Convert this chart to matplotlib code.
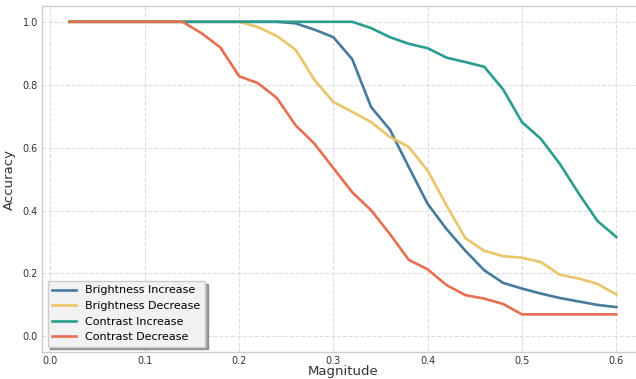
import matplotlib
matplotlib.use("Agg")
import matplotlib.pyplot as plt

plt.rcParams["font.family"] = "DejaVu Sans"

magnitude = [0.02, 0.04, 0.06, 0.08, 0.10, 0.12, 0.14, 0.16, 0.18, 0.20,
             0.22, 0.24, 0.26, 0.28, 0.30, 0.32, 0.34, 0.36, 0.38, 0.40,
             0.42, 0.44, 0.46, 0.48, 0.50, 0.52, 0.54, 0.56, 0.58, 0.60]

brightness_inc = [1.0, 1.0, 1.0, 1.0, 1.0, 1.0, 1.0, 1.0, 1.0, 1.0,
                  1.0, 1.0, 0.995, 0.975, 0.951, 0.881, 0.729, 0.657, 0.538, 0.421,
                  0.341, 0.272, 0.210, 0.170, 0.152, 0.136, 0.122, 0.111, 0.100, 0.093]
brightness_dec = [1.0, 1.0, 1.0, 1.0, 1.0, 1.0, 1.0, 1.0, 1.0, 1.0,
                  0.983, 0.955, 0.911, 0.815, 0.745, 0.714, 0.681, 0.634, 0.602, 0.527,
                  0.416, 0.312, 0.272, 0.255, 0.250, 0.236, 0.196, 0.184, 0.167, 0.133]
contrast_inc = [1.0, 1.0, 1.0, 1.0, 1.0, 1.0, 1.0, 1.0, 1.0, 1.0,
                1.0, 1.0, 1.0, 1.0, 1.0, 1.0, 0.980, 0.951, 0.930, 0.916,
                0.886, 0.872, 0.857, 0.785, 0.681, 0.628, 0.549, 0.455, 0.367, 0.316]
contrast_dec = [1.0, 1.0, 1.0, 1.0, 1.0, 1.0, 1.0, 0.964, 0.919, 0.827,
                0.805, 0.758, 0.671, 0.612, 0.535, 0.458, 0.401, 0.325, 0.243, 0.213,
                0.163, 0.131, 0.120, 0.103, 0.070, 0.070, 0.070, 0.070, 0.070, 0.070]

series = [
    ("Brightness Increase", brightness_inc, "#457b9d"),
    ("Brightness Decrease", brightness_dec, "#e9c46a"),
    ("Contrast Increase", contrast_inc, "#2a9d8f"),
    ("Contrast Decrease", contrast_dec, "#e76f51"),
]

fig = plt.figure(figsize=(6.36, 3.79), dpi=100)
ax = fig.add_axes([0.066, 0.071, 0.946, 0.913])

for name, vals, col in series:
    ax.plot(magnitude, vals, color=col, lw=1.9, label=name)

ax.set_ylim(-0.05, 1.05)
ax.set_xticks([0.0, 0.1, 0.2, 0.3, 0.4, 0.5, 0.6])
ax.set_yticks([0.0, 0.2, 0.4, 0.6, 0.8, 1.0])
ax.tick_params(length=0, labelsize=7, labelcolor="#333333", pad=3)
ax.tick_params(axis="x", pad=2.5)
ax.grid(True, ls="--", color="#dddddd", lw=0.8)
ax.set_axisbelow(True)
for s in ax.spines.values():
    s.set_color("#cccccc")
    s.set_linewidth(1.0)

ax.set_xlabel("Magnitude", fontsize=9.5, color="#333333", labelpad=-0.5)
ax.set_ylabel("Accuracy", fontsize=9.5, color="#333333", labelpad=5)

leg = ax.legend(loc="lower left", fontsize=8, frameon=True, shadow=True,
                fancybox=False, facecolor="#f2f2f2", edgecolor="#cccccc",
                handlelength=2.2, borderaxespad=0.5)
leg.get_frame().set_alpha(1.0)

fig.savefig("out.png", dpi=100)
